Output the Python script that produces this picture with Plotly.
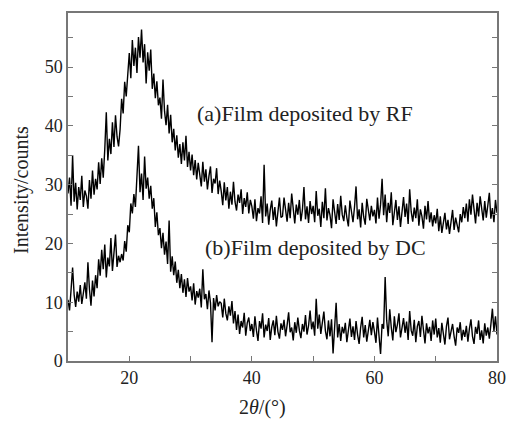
import numpy as np
import plotly.graph_objects as go

# 2theta from 10 to 80 deg, step 0.25
two_theta = np.arange(281) * 0.25 + 10

# (a) film deposited by RF
rf_counts = [
    28.5, 31.2, 26.4, 35.0, 27.1, 30.3, 25.8, 29.6, 27.4, 31.5, 26.2, 29.0, 28.1, 25.9, 30.8, 27.6, 32.4, 28.3, 31.0, 29.2,
    33.8, 30.1, 34.5, 31.2, 36.0, 42.3, 34.1, 37.8, 35.2, 40.6, 36.4, 41.8, 38.2, 36.5, 39.4, 44.6, 42.1, 47.5, 45.0, 49.6,
    52.4, 48.1, 54.6, 50.2, 53.3, 49.0, 55.1, 51.6, 56.4, 50.8, 53.9, 47.2, 52.5, 49.4, 53.0, 46.3, 48.9, 44.7, 47.6, 43.5,
    44.8, 41.2, 47.9, 42.5, 40.1, 43.6, 38.7, 41.9, 37.2, 39.5, 35.8, 38.4, 34.6, 36.9, 33.5, 37.2, 34.1, 38.3, 33.0, 35.6,
    32.4, 35.1, 31.6, 34.2, 30.9, 33.7, 31.8, 29.7, 33.9, 30.5, 32.6, 29.2, 31.5, 33.1, 28.6, 31.0, 30.2, 32.8, 28.4, 30.7,
    28.9, 26.5, 30.4, 27.3, 29.6, 25.9, 28.8, 26.6, 30.5, 27.1, 25.6, 28.3, 26.9, 29.2, 25.0, 27.7, 26.2, 28.7, 25.1, 27.4,
    26.3, 24.2, 27.5, 23.8, 26.0, 25.1, 28.0, 23.5, 33.4, 24.6, 26.8, 23.2, 25.7, 27.3, 24.0, 26.2, 22.9, 25.4, 27.8, 24.4,
    24.6, 27.8, 25.1, 23.7, 26.9, 24.3, 28.5, 25.2, 23.4, 26.6, 24.9, 27.4, 23.8, 25.7, 29.6, 24.1, 26.3, 23.5, 27.2, 25.0,
    26.4, 23.6, 28.9, 24.7, 25.9, 22.8, 27.1, 24.3, 29.4, 23.9, 26.0, 24.8, 22.6, 27.5, 25.1, 23.3, 26.7, 24.0, 28.1, 24.9,
    23.8, 26.5, 24.4, 22.9, 27.3, 25.0, 23.6, 26.2, 29.7, 24.1, 25.8, 22.7, 26.9, 24.5, 23.2, 27.6, 25.3, 23.9, 26.4, 24.6,
    25.7, 23.4, 27.8, 24.2, 26.6, 31.0, 24.8, 28.3, 23.6, 26.9, 25.2, 28.7, 23.1, 25.9, 27.4, 24.0, 26.3, 22.8, 25.6, 27.9,
    24.5, 26.8, 23.3, 29.2, 25.4, 23.7, 26.1, 24.3, 27.5, 23.0, 25.8, 24.6, 22.5, 26.4, 24.1, 27.2, 23.6, 25.3, 22.9, 24.8,
    23.4, 25.9, 22.1, 24.6, 21.8, 23.9, 25.2, 22.4, 24.0, 21.6, 23.5, 25.7, 22.3, 24.4, 23.1, 21.9, 25.0, 23.6, 26.2, 24.3,
    26.8, 23.7, 27.5, 24.9, 28.3, 25.1, 23.4, 26.9, 24.6, 28.0, 25.5, 23.9, 27.2, 24.4, 26.5, 28.6, 24.2, 26.0, 23.6, 27.4,
    25.2,
]

# (b) film deposited by DC
dc_counts = [
    10.4, 8.6, 12.1, 15.9, 11.3, 9.2, 11.8, 10.1, 12.9, 9.7, 11.5, 13.4, 10.6, 16.8, 12.2, 9.4, 13.7, 11.0, 14.6, 12.4,
    17.3, 14.5, 18.9, 15.6, 19.8, 14.2, 17.6, 16.1, 20.9, 15.3, 18.4, 21.5, 16.0, 17.9, 16.8, 18.2, 17.1, 20.4, 18.6, 23.1,
    21.9, 26.8, 25.1, 28.4, 26.2, 30.5, 36.6, 28.7, 31.9, 27.4, 34.8, 29.3, 31.2, 27.6, 29.8, 25.9, 27.7, 22.8, 25.3, 21.4,
    22.6, 19.2, 21.8, 18.1, 20.3, 16.5, 23.9, 15.2, 17.8, 14.6, 16.9, 13.3, 15.5, 12.4, 14.8, 11.6, 13.9, 10.9, 14.1, 11.8,
    12.7, 10.3, 13.2, 9.6, 11.9, 10.8, 12.3, 9.1, 15.6, 10.5, 11.4, 8.8, 12.0, 9.9, 3.2, 10.7, 8.6, 11.2, 9.3, 10.1,
    9.8, 7.4, 10.6, 8.1, 6.9, 9.3, 7.7, 10.2, 6.4, 8.5, 5.3, 7.9, 4.6, 6.8, 5.7, 8.2, 4.3, 6.5, 7.4, 5.1,
    6.3, 4.1, 7.6, 5.2, 3.4, 6.8, 5.5, 8.1, 4.0, 6.2, 5.1, 7.3, 3.6, 5.8, 6.9, 4.4, 7.7, 5.0, 3.8, 6.4,
    5.3, 7.0, 4.2, 6.1, 8.3, 4.9, 5.7, 3.5, 6.6, 4.8, 7.4, 5.2, 3.9, 6.3, 5.0, 7.8, 4.5, 6.0, 8.6, 5.4,
    6.7, 4.3, 10.6, 5.5, 7.9, 4.6, 6.2, 8.4, 5.1, 3.7, 6.9, 4.2, 7.1, 1.3, 5.6, 9.9, 4.0, 6.3, 3.4, 5.8,
    4.7, 6.5, 3.2, 5.4, 7.2, 4.1, 5.9, 3.6, 6.8, 4.5, 2.9, 5.7, 7.5, 4.0, 6.1, 3.3, 5.2, 7.0, 4.4, 6.6,
    5.0, 3.1, 7.4, 4.6, 1.2, 6.3, 5.5, 14.3, 6.9, 4.2, 8.8, 5.7, 3.5, 7.6, 4.9, 6.2, 8.1, 4.0, 5.6, 7.3,
    4.8, 6.7, 3.6, 8.5, 5.2, 4.3, 7.0, 3.2, 5.9, 6.8, 4.1, 7.7, 5.3, 3.0, 6.4, 4.7, 5.8, 3.4, 6.9, 4.5,
    7.2, 4.0, 5.6, 3.1, 6.5, 4.4, 2.8, 5.9, 7.4, 3.7, 5.1, 6.3, 4.2, 2.6, 5.7, 4.8, 6.6, 3.5, 5.3, 4.1,
    6.0, 3.3, 5.5, 7.1, 4.2, 2.9, 5.8, 4.6, 6.9, 3.6, 5.2, 3.0, 6.4, 4.3, 5.7, 3.8, 6.2, 8.9, 5.1, 7.6,
    4.5,
]

x_ticks = [10, 20, 30, 40, 50, 60, 70, 80]
x_labels = ["", "20", "", "40", "", "60", "", "80"]
y_ticks = [0, 5, 10, 15, 20, 25, 30, 35, 40, 45, 50, 55]
y_labels = ["0", "", "10", "", "20", "", "30", "", "40", "", "50", ""]

font = "Liberation Serif, Times New Roman, serif"
txt = "#222"

fig = go.Figure()
fig.add_trace(go.Scatter(x=two_theta, y=rf_counts, mode="lines",
                         line=dict(color="black", width=1.4), showlegend=False))
fig.add_trace(go.Scatter(x=two_theta, y=dc_counts, mode="lines",
                         line=dict(color="black", width=1.4), showlegend=False))

fig.add_annotation(x=30.8, y=42.1, text="(a)Film deposited by RF", showarrow=False,
                   xanchor="left", font=dict(size=22, color=txt))
fig.add_annotation(x=32.0, y=19.3, text="(b)Film deposited by DC", showarrow=False,
                   xanchor="left", font=dict(size=22, color=txt))

# axis titles (placed in paper coords, plot area is 68..506 x 13..361 px)
fig.add_annotation(x=(267 - 68) / 438, y=-(407 - 361) / 348, xref="paper", yref="paper",
                   xanchor="center", yanchor="middle", text="2<i>θ</i>/(°)",
                   showarrow=False, font=dict(size=20, color=txt))
fig.add_annotation(x=-(68 - 20) / 438, y=(361 - 190) / 348, xref="paper", yref="paper",
                   xanchor="center", yanchor="middle", text="Intensity/counts",
                   textangle=-90, showarrow=False, font=dict(size=20, color=txt))

fig.update_xaxes(range=[10, 80], tickvals=x_ticks, ticktext=x_labels,
                 ticks="inside", ticklen=5, tickcolor="#777", showline=True,
                 linecolor="#777", linewidth=1.5, mirror=True, showgrid=False,
                 zeroline=False, ticklabeloverflow="allow",
                 tickfont=dict(size=18, color=txt))
fig.update_yaxes(range=[0, 59.2], tickvals=y_ticks, ticktext=y_labels,
                 ticks="inside", ticklen=5, tickcolor="#777", showline=True,
                 linecolor="#777", linewidth=1.5, mirror="ticks", showgrid=False,
                 zeroline=False, tickfont=dict(size=18, color=txt))

fig.update_layout(width=512, height=422, plot_bgcolor="white", paper_bgcolor="white",
                  margin=dict(l=68, r=6, t=13, b=61), font=dict(family=font))

fig.write_html("out.html", config={"displayModeBar": False},
               post_script="document.body.style.margin='0';")
